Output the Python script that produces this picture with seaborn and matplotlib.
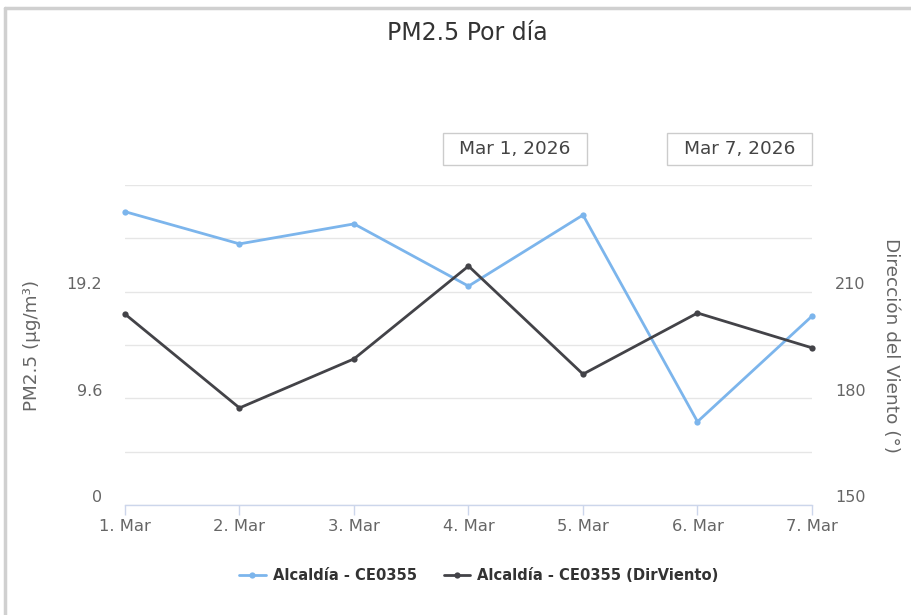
import matplotlib
matplotlib.use("Agg")
import matplotlib.pyplot as plt
from matplotlib.transforms import ScaledTranslation
from matplotlib.patches import Rectangle
from matplotlib.lines import Line2D
import seaborn as sns
import pandas as pd
import numpy as np

# Datos
fechas = ['1. Mar', '2. Mar', '3. Mar', '4. Mar', '5. Mar', '6. Mar', '7. Mar']
pm25 = [26.4, 23.5, 25.3, 19.7, 26.1, 7.5, 17.0]
dir_viento = [203.7, 177.3, 191.1, 217.2, 186.8, 204.0, 194.2]
serie_pm = 'Alcaldía - CE0355'
serie_dir = 'Alcaldía - CE0355 (DirViento)'
rango = ['Mar 1, 2026', 'Mar 7, 2026']

df = pd.DataFrame({'dia': range(len(fechas)), 'pm25': pm25, 'dir': dir_viento})

sns.set_theme(style="white")
plt.rcParams['font.family'] = ['DejaVu Sans']

W, H = 912, 615
fig = plt.figure(figsize=(W / 100, H / 100), dpi=100)

def fx(px):
    return px / W

def fy(py):
    return 1 - py / H

ax = fig.add_axes([fx(125), fy(505), fx(812) - fx(125), fy(185) - fy(505)])
ax2 = ax.twinx()

sns.lineplot(data=df, x='dia', y='pm25', ax=ax, color='#7cb5ec', lw=2,
             marker='o', markersize=4.5, markeredgewidth=0, label=serie_pm,
             clip_on=False, zorder=3)
sns.lineplot(data=df, x='dia', y='dir', ax=ax2, color='#434348', lw=2,
             marker='o', markersize=4.5, markeredgewidth=0, label=serie_dir,
             clip_on=False, zorder=3)

h1, l1 = ax.get_legend_handles_labels()
h2, l2 = ax2.get_legend_handles_labels()
for a in (ax, ax2):
    if a.get_legend():
        a.get_legend().remove()

# Ejes
ax.set_xlim(0, len(fechas) - 1)
ax.set_xticks(range(len(fechas)))
ax.set_xticklabels(fechas)
ax.set_ylim(0, 28.8)
ax.set_yticks(np.arange(0, 28.81, 4.8))
ax.set_yticklabels(['0', '', '9.6', '', '19.2', '', ''])
ax2.set_ylim(150, 240)
ax2.set_yticks(np.arange(150, 241, 15))
ax2.set_yticklabels(['150', '', '180', '', '210', '', ''])

ax.grid(axis='y', color='#e6e6e6', lw=1)
ax.grid(axis='x', visible=False)
ax2.grid(False)
for a in (ax, ax2):
    for s in ['top', 'left', 'right', 'bottom']:
        a.spines[s].set_visible(False)
ax.spines['bottom'].set_visible(True)
ax.spines['bottom'].set_color('#ccd6eb')
ax.spines['bottom'].set_linewidth(1)

ax.tick_params(axis='x', direction='out', length=7.2, width=1, color='#ccd6eb',
               pad=3, labelsize=11.8, labelcolor='#666666', bottom=True)
ax.tick_params(axis='y', length=0, pad=16.5, labelsize=11.5, labelcolor='#666666')
ax2.tick_params(axis='y', length=0, pad=16.5, labelsize=11.5, labelcolor='#666666')

off = ScaledTranslation(0, 0.085, fig.dpi_scale_trans)
for lab in ax.get_yticklabels() + ax2.get_yticklabels():
    lab.set_transform(lab.get_transform() + off)

ax.set_xlabel('')
ax.set_ylabel('PM2.5 (µg/m³)', fontsize=13.2, color='#666666')
ax.yaxis.set_label_coords((41 - 125) / 687, 0.5)
ax2.set_ylabel('Dirección del Viento (°)', fontsize=13.3, color='#666666',
               rotation=270, va='center')
ax2.yaxis.set_label_coords((891 - 125) / 687, 0.5)

# Título
fig.text(fx(467), fy(33), 'PM2.5 Por día', ha='center', va='center',
         fontsize=17, color='#333333')

# Cajas de rango de fechas
for (x0, x1), txt in zip([(443, 587), (667, 812)], rango):
    fig.add_artist(Rectangle((fx(x0), fy(165)), fx(x1) - fx(x0), fy(133) - fy(165),
                             transform=fig.transFigure, fill=False,
                             edgecolor='#cccccc', lw=1))
    fig.text(fx((x0 + x1) / 2), fy(149), txt, ha='center', va='center',
             fontsize=13.3, color='#444444')

# Leyenda
fig.legend(h1 + h2, l1 + l2, loc='center', bbox_to_anchor=(fx(479), fy(576)),
           ncol=2, frameon=False, handlelength=1.8, columnspacing=1.8,
           handletextpad=0.5, prop={'weight': 'bold', 'size': 10.6},
           labelcolor='#333333')

# Marco exterior
fig.add_artist(Line2D([fx(5), fx(5)], [0, fy(8)], transform=fig.transFigure,
                      color='#d0d0d0', lw=2.5))
fig.add_artist(Line2D([fx(5), 1], [fy(8), fy(8)], transform=fig.transFigure,
                      color='#d0d0d0', lw=2.5))

fig.savefig('out.png', dpi=100)
